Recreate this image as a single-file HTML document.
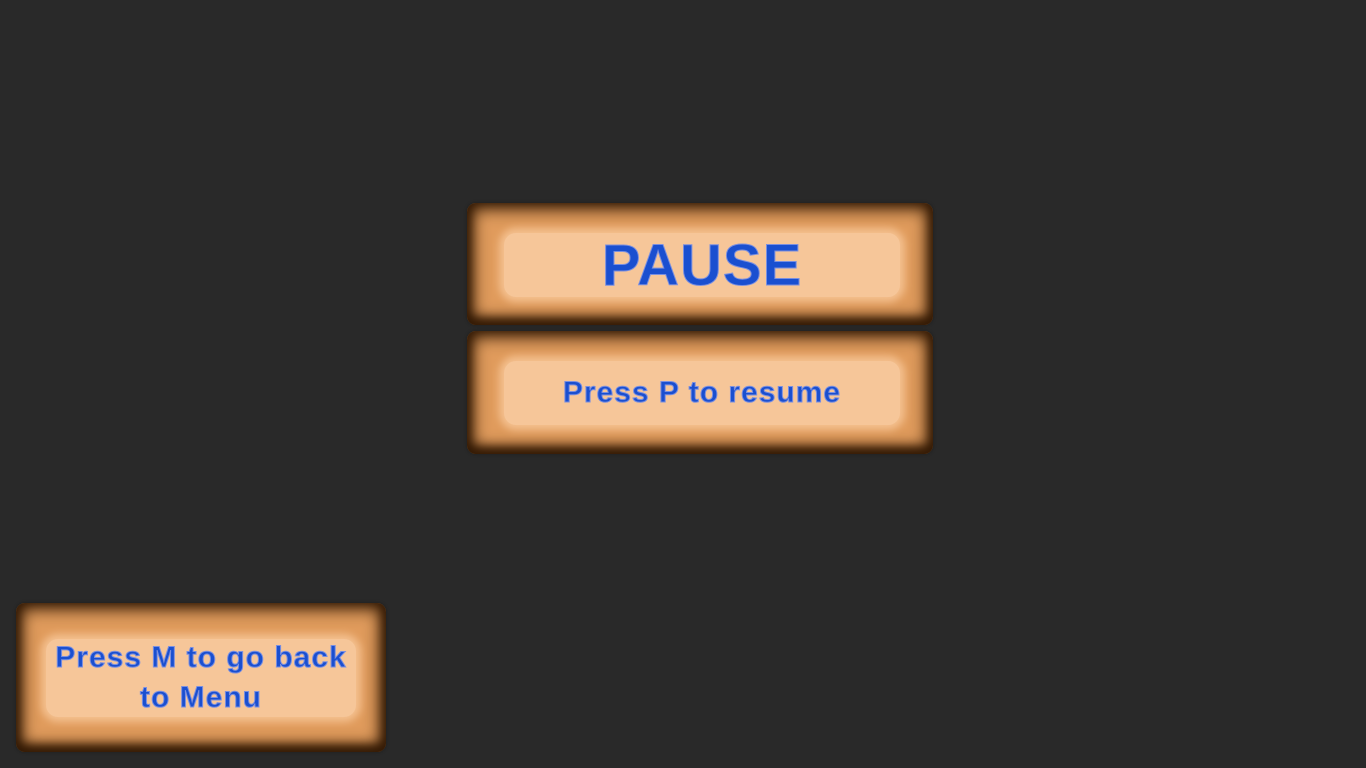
<!DOCTYPE html>
<html><head><style>
html,body{margin:0;padding:0;background:#292929;width:1366px;height:768px;overflow:hidden;font-family:"Liberation Sans",sans-serif}
.box{position:absolute;background:#e09b5c;border-radius:9px;box-shadow:inset 0 0 16px 6px #331a05, inset 0 -4px 10px 2px #3a1e06, 0 0 2px 1px #222;}
.in{position:absolute;background:#f6c699;border-radius:12px;box-shadow:0 0 8px 5px #f4c08f;display:flex;align-items:center;justify-content:center;text-align:center;color:#1a4fd0;font-weight:bold;-webkit-text-stroke:1px #7a8fe0}
</style></head><body>
<div class="box" style="left:467px;top:203px;width:466px;height:122px">
 <div class="in" style="left:37px;top:30px;width:396px;height:64px;font-size:58px;letter-spacing:1px">PAUSE</div>
</div>
<div class="box" style="left:467px;top:331px;width:466px;height:123px">
 <div class="in" style="left:37px;top:30px;width:396px;height:64px;font-size:30px;letter-spacing:1px">Press P to resume</div>
</div>
<div class="box" style="left:16px;top:603px;width:370px;height:149px">
 <div class="in" style="left:30px;top:36px;width:310px;height:78px;font-size:30px;line-height:40px;letter-spacing:1px">Press M to go back to Menu</div>
</div>
</body></html>
